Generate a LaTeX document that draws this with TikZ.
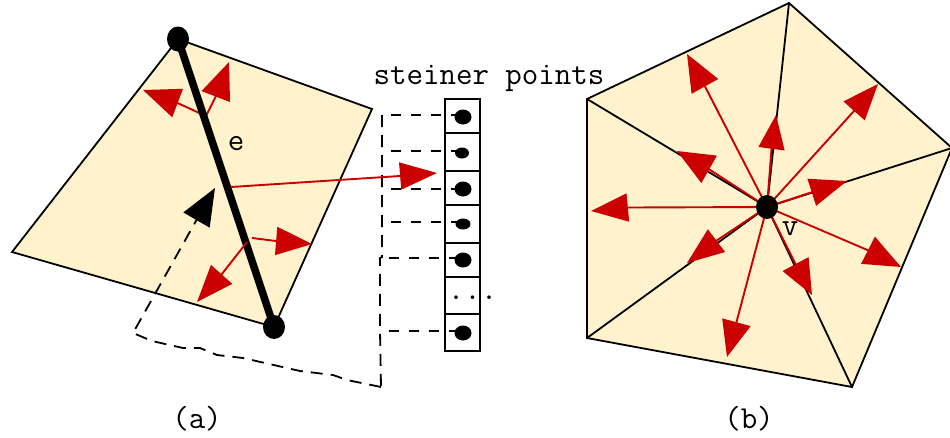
\documentclass[tikz,border=0pt]{standalone}
\usepackage{fontspec}
\usetikzlibrary{arrows.meta,shapes.geometric}
\definecolor{paper}{RGB}{255,242,204}
\definecolor{redc}{RGB}{204,0,0}
\tikzset{
  face/.style={fill=paper,draw=black,line width=1.8pt,line join=miter},
  spoke/.style={draw=black,line width=1.8pt},
  rarrow/.style 2 args={draw=redc,line width=1.9pt,-{Triangle[length=#1pt,width=#2pt,fill=redc]}},
  karrow/.style 2 args={draw=black,line width=1.8pt,dash pattern=on 12pt off 8pt,-{Triangle[length=#1pt,width=#2pt,fill=black]}},
  dashy/.style={draw=black,line width=1.8pt,dash pattern=on 12pt off 8pt},
  dashrow/.style={draw=black,line width=1.8pt,dash pattern=on 10pt off 10pt,dash phase=11pt},
  dot/.style={ellipse,fill=black,inner sep=0pt,minimum width=#1},
  cell/.style={draw=black,line width=1.8pt,fill=white,minimum width=35pt,inner sep=0pt},
  lab/.style={font=\fontsize{32}{32}\selectfont\ttfamily,inner sep=0pt,anchor=base},
}
\begin{document}
\begin{tikzpicture}[x=1pt,y=-1pt]
\useasboundingbox (0,0) rectangle (950,437);
% ---- part (a) coordinates
\coordinate (A1) at (178,39);
\coordinate (A2) at (372,109);
\coordinate (A3) at (274,327);
\coordinate (A4) at (12,252);
\draw[face] (A1) -- (A2) -- (A3) -- (A4) -- cycle;
% table
\node[cell,minimum height=34pt] (c1) at (462.5,116) {};
\node[cell,minimum height=38pt] (c2) at (462.5,152) {};
\node[cell,minimum height=34pt] (c3) at (462.5,188) {};
\node[cell,minimum height=38pt] (c4) at (462.5,224) {};
\node[cell,minimum height=34pt] (c5) at (462.5,260) {};
\node[cell,minimum height=37pt] (c6) at (462.5,295.5) {};
\node[cell,minimum height=37pt] (c7) at (462.5,332.5) {};
% steiner points
\node[dot=17pt,minimum height=15pt] (s1) at (463,117) {};
\node[dot=14pt,minimum height=11pt] (s2) at (462,153) {};
\node[dot=17pt,minimum height=15pt] (s3) at (463,189) {};
\node[dot=15pt,minimum height=11pt] (s4) at (463,224) {};
\node[dot=17pt,minimum height=15pt] (s5) at (463,260) {};
\node[dot=17pt,minimum height=15pt] (s7) at (463,333) {};
% dashed guide
\coordinate (b1) at (382,115);
\coordinate (b2) at (382,151);
\coordinate (b3) at (382,189);
\coordinate (b4) at (382,222);
\coordinate (b5) at (380,258);
\coordinate (b7) at (380,331);
\coordinate (bb) at (381,387);
\draw[dashrow] (b1) -- (b1-|s1);
\draw[dashrow] (b2) -- (b2-|s2);
\draw[dashrow] (b3) -- (b3-|s3);
\draw[dashrow] (b4) -- (b4-|s4);
\draw[dashrow] (b5) -- (b5-|s5);
\draw[dashrow] (b7) -- (b7-|s7);
\draw[dashy] (b1) -- (382,257) -- (b5) -- (b7) -- (bb);
% dashed curve with black arrowhead
\coordinate (k0) at (133,333);
\coordinate (kt) at (215,188);
\coordinate (km) at (196.5,220);
\draw[karrow={37}{30}] (bb) -- (347,380) -- (333,375) -- (300,371) -- (243,358) -- (217,355) -- (200,348) -- (183,348) -- (152,341) -- (k0) -- (km) -- (kt);
% red arrows of (a)
\coordinate (p1) at (206,116);
\draw[rarrow={37}{30}] (p1) -- (216,96) -- (229,62);
\draw[rarrow={37}{30}] (p1) -- (177.5,103) -- (143,90);
% the edge
\draw[line width=7.5pt,draw=black] (A1) -- (A3);
\node[dot=22pt,minimum height=25pt] (va) at (A1) {};
\node[dot=22pt,minimum height=24pt] (vb) at (A3) {};
\coordinate (p2) at (231,187);
\draw[rarrow={37}{27}] (p2) -- (400,176) -- (437,173);
\coordinate (p3) at (252,238);
\draw[rarrow={36}{28}] (p3) -- (276,241) -- (312,244);
\coordinate (p4) at (247,242);
\draw[rarrow={37}{28}] (p4) -- (221.5,274.5) -- (197,302);
% ---- part (b)
\coordinate (B1) at (789,3);
\coordinate (B2) at (952,148);
\coordinate (B3) at (852,387);
\coordinate (B4) at (587,338);
\coordinate (B5) at (587,99);
\coordinate (v) at (767,207);
\draw[face] (B1) -- (B2) -- (B3) -- (B4) -- (B5) -- cycle;
\draw[spoke] (v) -- (B1);
\draw[spoke] (v) -- (B2);
\draw[spoke] (v) -- (B3);
\draw[spoke] (v) -- (B4);
\draw[spoke] (v) -- (B5);
\draw[rarrow={37}{30}] (v) -- (705,86.5) -- (687,54);
\draw[rarrow={34}{26}] (v) -- (771.5,149) -- (776,115);
\draw[rarrow={36}{28}] (v) -- (854,111) -- (878,84);
\draw[rarrow={37}{28}] (v) -- (811,192.5) -- (847,181);
\draw[rarrow={37}{31}] (v) -- (709.5,169.5) -- (677,151);
\draw[rarrow={37}{28}] (v) -- (628,207.5) -- (591,211);
\draw[rarrow={37}{28}] (v) -- (716,241) -- (687,263);
\draw[rarrow={36}{29}] (v) -- (736.5,322) -- (727,357);
\draw[rarrow={35}{29}] (v) -- (795.5,264) -- (812,295);
\draw[rarrow={37}{30}] (v) -- (868.5,250.5) -- (901,267);
\node[dot=22pt,minimum height=24pt] (vc) at (v) {};
% ---- labels
\node[lab] (t1) at (489,84) {steiner points};
\node[lab] (t2) at (236,150) {e};
\node[lab] (t3) at (790,235) {v};
\node[lab] (t4) at (197,428) {(a)};
\node[lab] (t5) at (749,428) {(b)};
\node[lab] (t6) at (472.7,299) {...};
\end{tikzpicture}
\end{document}
